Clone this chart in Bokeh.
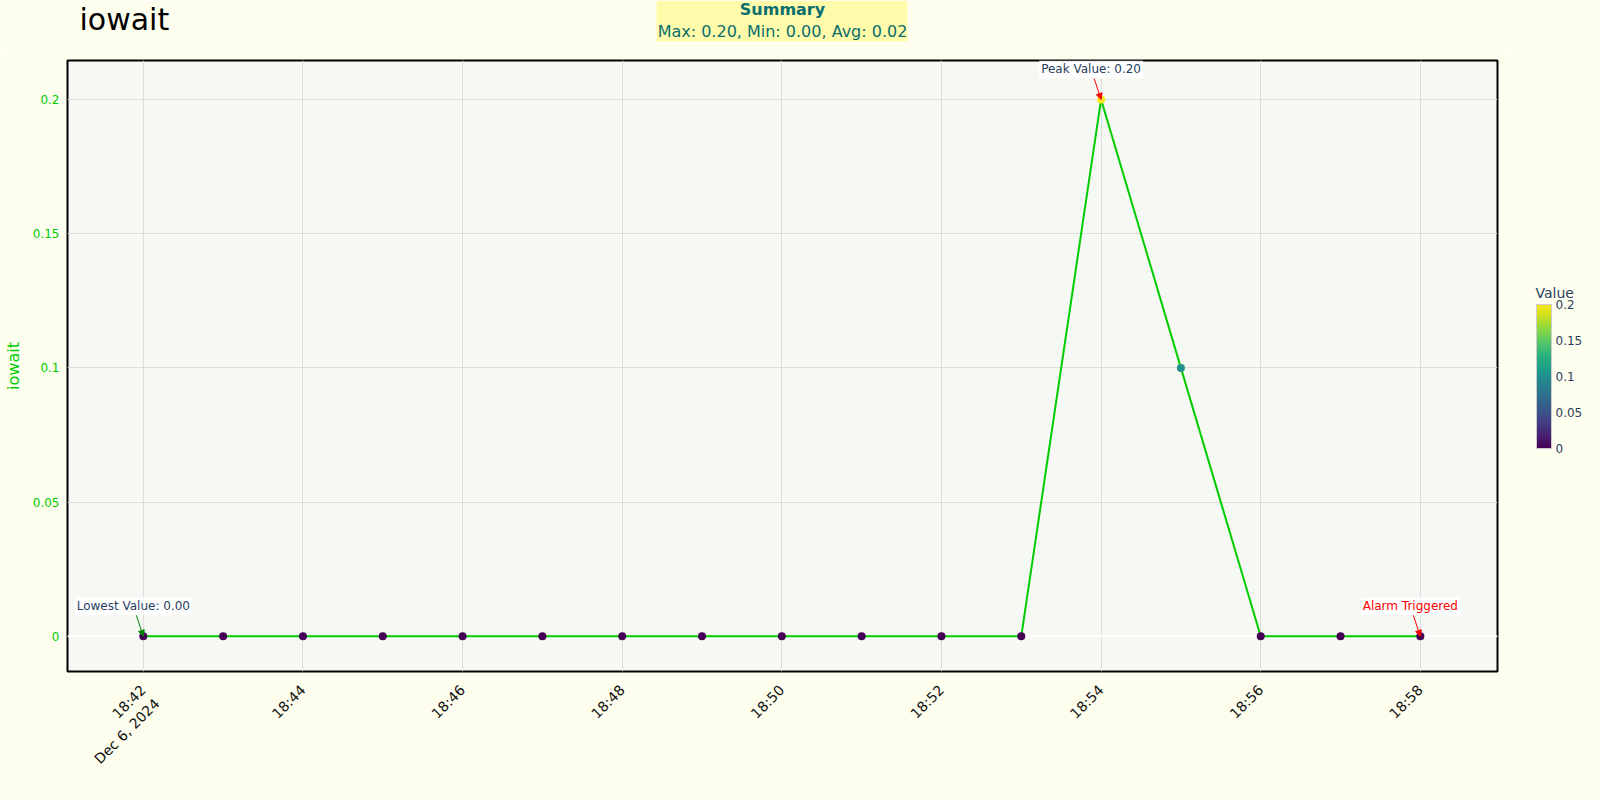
import pandas as pd
import numpy as np
from bokeh.plotting import figure
from bokeh.layouts import column, row
from bokeh.models import (ColumnDataSource, FixedTicker, Label, Arrow, NormalHead,
                          ColorBar, LinearColorMapper, BoxAnnotation, Range1d, Span)
from bokeh.palettes import Viridis256
from bokeh.transform import linear_cmap
from bokeh.embed import file_html
from bokeh.resources import INLINE

# ---------------- data ----------------
times = ["2024-12-06 18:42", "2024-12-06 18:43", "2024-12-06 18:44", "2024-12-06 18:45",
         "2024-12-06 18:46", "2024-12-06 18:47", "2024-12-06 18:48", "2024-12-06 18:49",
         "2024-12-06 18:50", "2024-12-06 18:51", "2024-12-06 18:52", "2024-12-06 18:53",
         "2024-12-06 18:54", "2024-12-06 18:55", "2024-12-06 18:56", "2024-12-06 18:57",
         "2024-12-06 18:58"]
values = [0, 0, 0, 0, 0, 0, 0, 0, 0, 0, 0, 0, 0.2, 0.1, 0, 0, 0]

x_tick_times = ["2024-12-06 18:42", "2024-12-06 18:44", "2024-12-06 18:46", "2024-12-06 18:48",
                "2024-12-06 18:50", "2024-12-06 18:52", "2024-12-06 18:54", "2024-12-06 18:56",
                "2024-12-06 18:58"]
x_tick_labels = ["\n18:42\nDec 6, 2024", "18:44", "18:46", "18:48", "18:50", "18:52",
                 "18:54", "18:56", "18:58"]
y_ticks = [0, 0.05, 0.1, 0.15, 0.2]
y_tick_labels = ["0", "0.05", "0.1", "0.15", "0.2"]
cb_ticks = [0, 0.05, 0.1, 0.15, 0.2]
cb_tick_labels = ["0", "0.05", "0.1", "0.15", "0.2"]

title_text = "iowait"
y_label = "iowait"
summary_title = "Summary"
colorbar_title = "Value"

# annotations: (text, index, text color, arrow color)
annotations = [
    ("Peak Value: 0.20", 12, "#2a3f5f", "red"),
    ("Lowest Value: 0.00", 0, "#2a3f5f", "green"),
    ("Alarm Triggered", 16, "red", "red"),
]

# ---------------- setup ----------------
FONT = "DejaVu Sans"
PAGE_BG = "#fefeee"
t = pd.to_datetime(times)
vals = np.array(values, dtype=float)
src = ColumnDataSource(dict(t=t, v=vals))

summary_text = "Max: %.2f, Min: %.2f, Avg: %.2f" % (vals.max(), vals.min(), vals.mean())

x_start = t[0] - pd.Timedelta(seconds=57)
x_end = t[-1] + pd.Timedelta(seconds=58)
y_start, y_end = -0.0131, 0.2145

TOP_H = 52
MAIN_W, MAIN_H = 1510, 748
SIDE_W = 90
FL, FT, FR, FB = 66, 8, 13, 129
frame_w = MAIN_W - FL - FR
frame_h = MAIN_H - FT - FB
FRAME_TOP_ABS = TOP_H + FT
FRAME_BOT_ABS = TOP_H + MAIN_H - FB


def blank(width, height, xr, yr):
    f = figure(width=width, height=height, x_range=xr, y_range=yr,
               x_axis_location=None, y_axis_location=None,
               output_backend="svg", toolbar_location=None, min_border=0)
    f.grid.visible = False
    f.outline_line_color = None
    f.background_fill_color = PAGE_BG
    f.border_fill_color = PAGE_BG
    return f


# ---------------- top strip: title + summary ----------------
top = blank(1600, TOP_H, Range1d(0, 1600), Range1d(TOP_H, 0))
top.add_layout(Label(x=79, y=18.5, text=title_text,
                     text_font=FONT, text_font_size="30px", text_color="black",
                     text_align="left", text_baseline="middle"))
top.add_layout(BoxAnnotation(left=656, right=907, top=0, bottom=41,
                             fill_color="#fffbaa", fill_alpha=1, line_color=None))
top.add_layout(Label(x=782, y=9, text=summary_title,
                     text_font=FONT, text_font_size="16px", text_font_style="bold",
                     text_color="#0b6e6e", text_align="center", text_baseline="middle"))
top.add_layout(Label(x=782, y=30.5, text=summary_text,
                     text_font=FONT, text_font_size="16px",
                     text_color="#0b6e6e", text_align="center", text_baseline="middle"))

# ---------------- main plot ----------------
p = figure(width=MAIN_W, height=MAIN_H, x_axis_type="datetime",
           x_range=Range1d(x_start, x_end), y_range=Range1d(y_start, y_end),
           output_backend="svg", toolbar_location=None,
           min_border_left=FL, min_border_right=FR, min_border_top=FT, min_border_bottom=FB)

p.background_fill_color = "#f6f8f3"
p.border_fill_color = PAGE_BG
p.outline_line_color = "black"
p.outline_line_width = 2

xt_ms = [float(v.value // 10**6) for v in pd.to_datetime(x_tick_times)]
p.xaxis.ticker = FixedTicker(ticks=xt_ms)
p.xaxis.major_label_overrides = {k: lab for k, lab in zip(xt_ms, x_tick_labels)}
p.xaxis.major_label_orientation = np.pi / 4
p.xaxis.major_label_text_font = FONT
p.xaxis.major_label_text_font_size = "14px"
p.xaxis.major_label_text_color = "#111111"
p.xaxis.major_label_standoff = 10
p.xaxis.axis_line_color = None
p.xaxis.major_tick_line_color = None
p.xaxis.minor_tick_line_color = None

p.yaxis.ticker = FixedTicker(ticks=y_ticks)
p.yaxis.major_label_overrides = {k: lab for k, lab in zip(y_ticks, y_tick_labels)}
p.yaxis.major_label_text_font = FONT
p.yaxis.major_label_text_font_size = "12px"
p.yaxis.major_label_text_color = "#00cc00"
p.yaxis.major_label_standoff = 2
p.yaxis.axis_line_color = None
p.yaxis.major_tick_line_color = None
p.yaxis.minor_tick_line_color = None
p.yaxis.axis_label = y_label
p.yaxis.axis_label_text_font = FONT
p.yaxis.axis_label_text_font_size = "16px"
p.yaxis.axis_label_text_font_style = "normal"
p.yaxis.axis_label_text_color = "#00cc00"
p.yaxis.axis_label_standoff = 7

p.grid.grid_line_color = "#dcdcdc"
p.grid.grid_line_width = 1

p.add_layout(Span(location=0, dimension="width", line_color="white", line_width=2,
                  level="underlay"))

p.line("t", "v", source=src, line_color="#00cc00", line_width=2)
p.scatter("t", "v", source=src, size=8, line_color=None,
          fill_color=linear_cmap("v", Viridis256, 0, 0.2))

ms_per_px = (x_end - x_start).total_seconds() * 1000 / frame_w
val_per_px = (y_end - y_start) / frame_h

for text, idx, tcol, acol in annotations:
    tx, ty = t[idx], vals[idx]
    p.add_layout(Label(x=tx, y=ty, x_offset=-10, y_offset=30, text=text,
                       text_font=FONT, text_font_size="12px", text_color=tcol,
                       text_align="center", text_baseline="middle",
                       background_fill_color="white", background_fill_alpha=0.85, padding=2))
    sx = tx - pd.Timedelta(milliseconds=7 * ms_per_px)
    sy = ty + 21 * val_per_px
    p.add_layout(Arrow(x_start=sx, y_start=sy, x_end=tx, y_end=ty,
                       line_color=acol, line_width=1,
                       end=NormalHead(size=6, fill_color=acol, line_color=acol)))

# ---------------- side strip: colour bar ----------------
# its frame is aligned with the main frame; y data = page pixel rows
side = blank(SIDE_W, MAIN_H, Range1d(0, SIDE_W), Range1d(FRAME_BOT_ABS, FRAME_TOP_ABS))
mapper = LinearColorMapper(palette=Viridis256, low=0, high=0.2)
cb = ColorBar(color_mapper=mapper, ticker=FixedTicker(ticks=cb_ticks),
              major_label_overrides={k: lab for k, lab in zip(cb_ticks, cb_tick_labels)},
              width=15, height=144, location=(26, FRAME_BOT_ABS - 448), margin=0, padding=0,
              major_label_text_font=FONT, major_label_text_font_size="12px",
              major_label_text_color="#2a3f5f", major_tick_line_color=None,
              label_standoff=4,
              bar_line_color="#cccccc", bar_line_width=1,
              border_line_color=None, background_fill_alpha=0)
side.add_layout(cb)
side.add_layout(Label(x=25, y=292, text=colorbar_title,
                      text_font=FONT, text_font_size="14px", text_color="#2a3f5f",
                      text_align="left", text_baseline="middle"))

layout = column(top, row(p, side, spacing=0), spacing=0)
open("out.html", "w").write(file_html(layout, INLINE))
